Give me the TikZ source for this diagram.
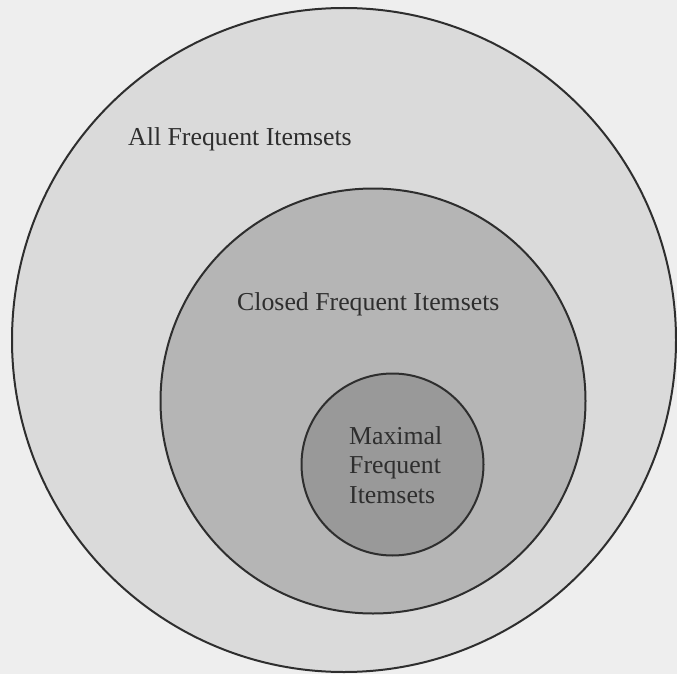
\documentclass[tikz,border=0pt]{standalone}
\usepackage{fontspec}
\setmainfont{Liberation Serif}
\definecolor{paper}{gray}{0.935}
\definecolor{ringA}{gray}{0.855}
\definecolor{ringB}{gray}{0.71}
\definecolor{ringC}{gray}{0.60}
\definecolor{ink}{gray}{0.18}
\tikzset{
  setcircle/.style={circle, draw=ink, line width=2pt, inner sep=0pt},
  setlabel/.style={anchor=base west, inner sep=0pt, text=ink,
    font=\fontsize{25.8}{29.5}\selectfont}
}
\begin{document}
\begin{tikzpicture}[x=1pt,y=-1pt]
  % page background
  \fill[paper] (0,0) rectangle (677,674);
  \useasboundingbox (0,0) rectangle (677,674);
  % nested sets
  \node[setcircle, fill=ringA, minimum size=664pt] (all) at (344,340) {};
  \node[setcircle, fill=ringB, minimum size=425pt] (closed) at (373,401) {};
  \node[setcircle, fill=ringC, minimum size=182pt] (maximal) at (392.5,464.5) {};
  % labels (the three-line label is placed by the baseline of its last line)
  \node[setlabel] (allLabel) at (128,146) {All Frequent Itemsets};
  \node[setlabel] (closedLabel) at (237,310) {Closed Frequent Itemsets};
  \node[setlabel, align=left] (maxLabel) at (349,503) {Maximal\\Frequent\\Itemsets};
\end{tikzpicture}
\end{document}
